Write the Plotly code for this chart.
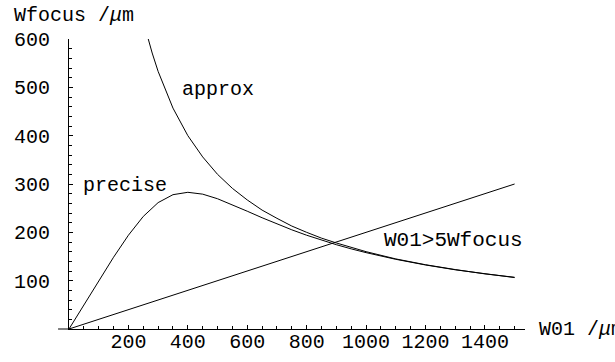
import plotly.graph_objects as go

# Data
precise_x = [0, 50, 100, 150, 200, 250, 300, 350, 400, 450, 500, 550, 600, 650, 700, 750,
             800, 850, 900, 950, 1000, 1100, 1200, 1300, 1400, 1500]
precise_y = [0, 50.0, 99.8, 148.5, 194.0, 232.9, 261.5, 277.9, 282.8, 279.0, 269.5, 257.2,
             243.7, 230.2, 217.3, 205.2, 194.0, 183.8, 174.4, 165.8, 158.0, 144.2, 132.5,
             122.5, 113.9, 106.4]
approx_x = [265, 280, 300, 350, 400, 450, 500, 550, 600, 650, 700, 750, 800, 850, 900,
            1000, 1100, 1200, 1300, 1400, 1500]
approx_y = [604, 571, 533, 457, 400, 356, 320, 291, 267, 246, 229, 213, 200, 188, 178,
            160, 145, 133, 123, 114, 107]
limit_x = [0, 1500]
limit_y = [0, 300]
x_ticks = [200, 400, 600, 800, 1000, 1200, 1400]
y_ticks = [100, 200, 300, 400, 500, 600]

FONT = "Liberation Mono"
line = dict(color="black", width=1)

fig = go.Figure()
fig.add_trace(go.Scatter(x=precise_x, y=precise_y, mode="lines", line=line, name="precise"))
fig.add_trace(go.Scatter(x=approx_x, y=approx_y, mode="lines", line=line, name="approx"))
fig.add_trace(go.Scatter(x=limit_x, y=limit_y, mode="lines", line=line, name="W01>5Wfocus"))

tfont = dict(family=FONT, size=20, color="black")
bigfont = dict(family=FONT, size=21, color="black")
fig.add_annotation(x=375, y=496, text="approx", showarrow=False, xanchor="left",
                   yanchor="middle", font=tfont)
fig.add_annotation(x=42, y=297, text="precise", showarrow=False, xanchor="left",
                   yanchor="middle", font=tfont)
fig.add_annotation(x=1055, y=184, text="W01>5Wfocus", showarrow=False, xanchor="left",
                   yanchor="middle", font=bigfont)

fig.add_annotation(xref="paper", yref="paper", x=-0.125, y=1.0, yshift=24,
                   text="Wfocus /<i>μ</i>m", showarrow=False, xanchor="left",
                   yanchor="middle", font=tfont)
fig.add_annotation(xref="paper", yref="paper", x=1.0, y=0.0, xshift=12,
                   text="W01 /<i>μ</i>m", showarrow=False, xanchor="left",
                   yanchor="middle", font=tfont)

fig.add_shape(type="line", xref="paper", yref="paper", x0=-0.024, x1=0, y0=0, y1=0,
              line=dict(color="black", width=1))

fig.update_layout(
    width=615, height=362,
    margin=dict(l=69, r=90, t=39, b=33),
    plot_bgcolor="white", paper_bgcolor="white",
    showlegend=False,
)
fig.update_xaxes(range=[0, 1535], showgrid=False, zeroline=False, showline=True,
                 automargin=False,
                 linecolor="black", linewidth=1, ticks="inside", ticklen=4, tickwidth=1,
                 tickcolor="black", tickmode="array", tickvals=x_ticks, tickfont=tfont,
                 ticklabelstandoff=-6,
                 minor=dict(ticks="inside", dtick=50, tick0=0, ticklen=3, tickwidth=1,
                            tickcolor="black"))
fig.update_yaxes(range=[0, 600], showgrid=False, zeroline=False, showline=True,
                 automargin=False,
                 linecolor="black", linewidth=1, ticks="inside", ticklen=4, tickwidth=1,
                 tickcolor="black", tickmode="array", tickvals=y_ticks, tickfont=tfont,
                 ticklabelstandoff=14,
                 minor=dict(ticks="inside", dtick=20, tick0=0, ticklen=3, tickwidth=1,
                            tickcolor="black"))

fig.write_html("out.html")
